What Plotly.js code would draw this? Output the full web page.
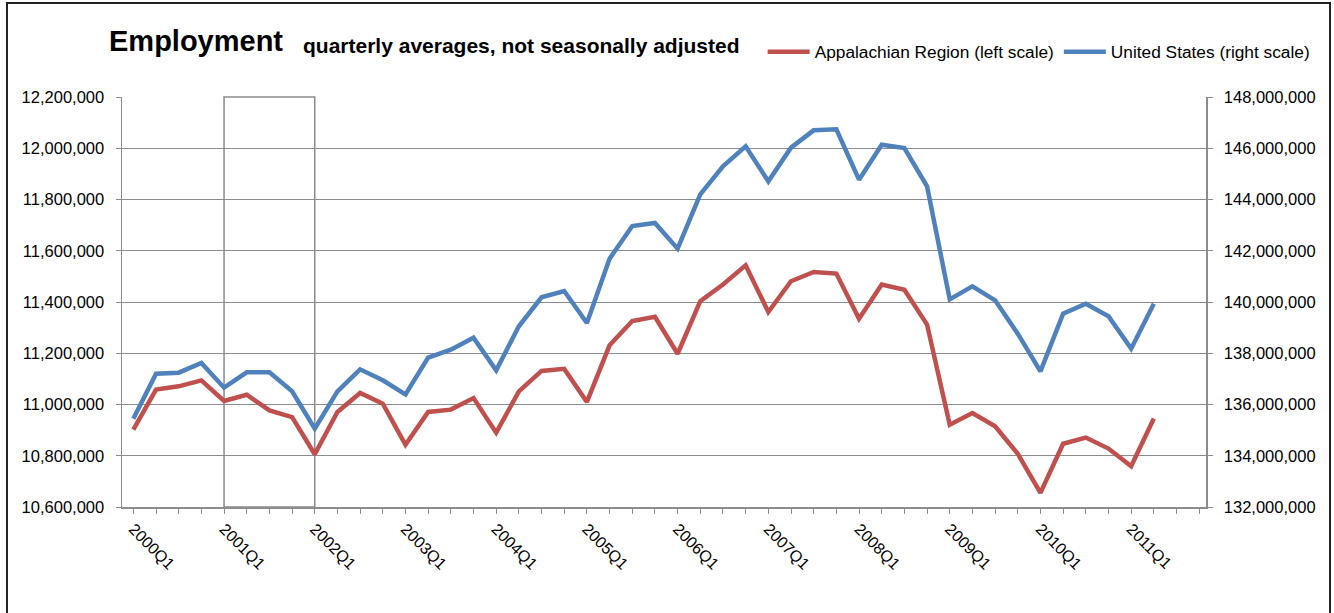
<!DOCTYPE html>
<html>
<head>
<meta charset="utf-8">
<script src="https://cdn.plot.ly/plotly-3.0.1.min.js"></script>
<style>
  html, body { margin: 0; padding: 0; background: #ffffff; }
  #chart { width: 1334px; height: 613px; }
</style>
</head>
<body>
<div id="chart"></div>
<script>
// Category axis: quarters 2000Q1 .. 2011Q4
const quarters = [
  "2000Q1","2000Q2","2000Q3","2000Q4",
  "2001Q1","2001Q2","2001Q3","2001Q4",
  "2002Q1","2002Q2","2002Q3","2002Q4",
  "2003Q1","2003Q2","2003Q3","2003Q4",
  "2004Q1","2004Q2","2004Q3","2004Q4",
  "2005Q1","2005Q2","2005Q3","2005Q4",
  "2006Q1","2006Q2","2006Q3","2006Q4",
  "2007Q1","2007Q2","2007Q3","2007Q4",
  "2008Q1","2008Q2","2008Q3","2008Q4",
  "2009Q1","2009Q2","2009Q3","2009Q4",
  "2010Q1","2010Q2","2010Q3","2010Q4",
  "2011Q1","2011Q2","2011Q3","2011Q4"
];

// Appalachian Region employment (left scale), 2000Q1 .. 2011Q2
const appalachian = [
  10902000, 11058000, 11071000, 11094000,
  11014000, 11038000, 10977000, 10951000,
  10806000, 10971000, 11045000, 11003000,
  10843000, 10971000, 10980000, 11025000,
  10890000, 11051000, 11131000, 11139000,
  11010000, 11231000, 11326000, 11342000,
  11198000, 11403000, 11468000, 11543000,
  11361000, 11481000, 11517000, 11511000,
  11335000, 11468000, 11448000, 11312000,
  10921000, 10967000, 10915000, 10808000,
  10655000, 10847000, 10871000, 10828000,
  10759000, 10945000
];

// United States employment (right scale), 2000Q1 .. 2011Q2
const unitedStates = [
  135447000, 137203000, 137242000, 137620000,
  136657000, 137255000, 137255000, 136514000,
  135057000, 136514000, 137372000, 136943000,
  136397000, 137828000, 138140000, 138608000,
  137333000, 139050000, 140182000, 140429000,
  139180000, 141691000, 142966000, 143083000,
  142081000, 144202000, 145294000, 146075000,
  144709000, 146023000, 146699000, 146738000,
  144774000, 146140000, 146010000, 144514000,
  140104000, 140611000, 140065000, 138764000,
  137294000, 139545000, 139935000, 139441000,
  138179000, 139935000
];

const seriesNames = ["Appalachian Region (left scale)", "United States (right scale)"];
const titleMain = "Employment";
const titleSub = "quarterly averages, not seasonally adjusted";
const tickLabels = quarters.map(q => q.endsWith("Q1") ? q : "");
const leftTicks = [10600000, 10800000, 11000000, 11200000, 11400000, 11600000, 11800000, 12000000, 12200000];
const rightTicks = [132000000, 134000000, 136000000, 138000000, 140000000, 142000000, 144000000, 146000000, 148000000];
const recessionStart = "2001Q1";
const recessionEnd = "2002Q1";

const FONT = "Arial, 'Liberation Sans', sans-serif";
const GRID = "#8c8c8c";

const traces = [
  {
    x: quarters.slice(0, appalachian.length),
    y: appalachian,
    name: seriesNames[0],
    type: "scatter",
    mode: "lines",
    line: { color: "#C0504D", width: 4.5 },
    yaxis: "y"
  },
  {
    x: quarters.slice(0, unitedStates.length),
    y: unitedStates,
    name: seriesNames[1],
    type: "scatter",
    mode: "lines",
    line: { color: "#4F81BD", width: 4.5 },
    yaxis: "y2"
  }
];

const layout = {
  width: 1334,
  height: 613,
  paper_bgcolor: "#ffffff",
  plot_bgcolor: "#ffffff",
  font: { family: FONT, size: 16.5, color: "#000000" },
  margin: { l: 122, r: 128, t: 97, b: 106, autoexpand: false },
  showlegend: true,
  annotations: [
    {
      text: "<b>" + titleMain + "</b>",
      font: { family: FONT, size: 29, color: "#000000" },
      xref: "paper", yref: "paper",
      x: -0.013, xanchor: "left",
      y: 1.094, yanchor: "bottom",
      showarrow: false,
      borderpad: 0
    },
    {
      text: "<b>" + titleSub + "</b>",
      font: { family: FONT, size: 21, color: "#000000" },
      xref: "paper", yref: "paper",
      x: 0.166, xanchor: "left",
      y: 1.096, yanchor: "bottom",
      showarrow: false,
      borderpad: 0
    }
  ],
  legend: {
    orientation: "h",
    x: 0.591,
    xanchor: "left",
    y: 1.11,
    yanchor: "middle",
    font: { family: FONT, size: 17.3, color: "#000000" },
    bgcolor: "rgba(0,0,0,0)",
    itemwidth: 42,
    traceorder: "normal"
  },
  xaxis: {
    type: "category",
    categoryorder: "array",
    categoryarray: quarters,
    range: [-0.5, 47.3],
    tickmode: "array",
    tickvals: quarters,
    ticktext: tickLabels,
    tickangle: 45,
    ticks: "outside",
    ticklen: 5,
    tickwidth: 1,
    tickcolor: GRID,
    showline: true,
    linecolor: GRID,
    linewidth: 1.5,
    showgrid: false,
    zeroline: false,
    tickfont: { family: FONT, size: 16, color: "#000000" },
    fixedrange: true
  },
  yaxis: {
    range: [10600000, 12200000],
    tickmode: "array",
    tickvals: leftTicks,
    tickformat: ",d",
    ticks: "outside",
    ticklen: 5,
    tickcolor: GRID,
    showline: true,
    linecolor: GRID,
    linewidth: 1.5,
    showgrid: true,
    gridcolor: GRID,
    gridwidth: 1,
    zeroline: false,
    ticklabelstandoff: 8,
    tickfont: { family: FONT, size: 16.5, color: "#000000" },
    fixedrange: true
  },
  yaxis2: {
    overlaying: "y",
    side: "right",
    range: [132000000, 148000000],
    tickmode: "array",
    tickvals: rightTicks,
    tickformat: ",d",
    ticks: "outside",
    ticklen: 5,
    tickcolor: GRID,
    showline: true,
    linecolor: GRID,
    linewidth: 1.5,
    showgrid: false,
    zeroline: false,
    ticklabelstandoff: 8,
    tickfont: { family: FONT, size: 16.5, color: "#000000" },
    fixedrange: true
  },
  shapes: [
    {
      type: "rect",
      xref: "x",
      yref: "paper",
      x0: recessionStart,
      x1: recessionEnd,
      y0: 0,
      y1: 1,
      line: { color: "#8c8c8c", width: 1.5 },
      fillcolor: "rgba(0,0,0,0)",
      layer: "below"
    },
    {
      type: "rect",
      xref: "paper",
      yref: "paper",
      x0: -0.1061,
      x1: 1.1144,
      y0: -0.30,
      y1: 1.2293,
      line: { color: "#222222", width: 2 },
      fillcolor: "rgba(0,0,0,0)",
      layer: "above"
    }
  ]
};

Plotly.newPlot("chart", traces, layout, { displayModeBar: false, staticPlot: true });
</script>
</body>
</html>
